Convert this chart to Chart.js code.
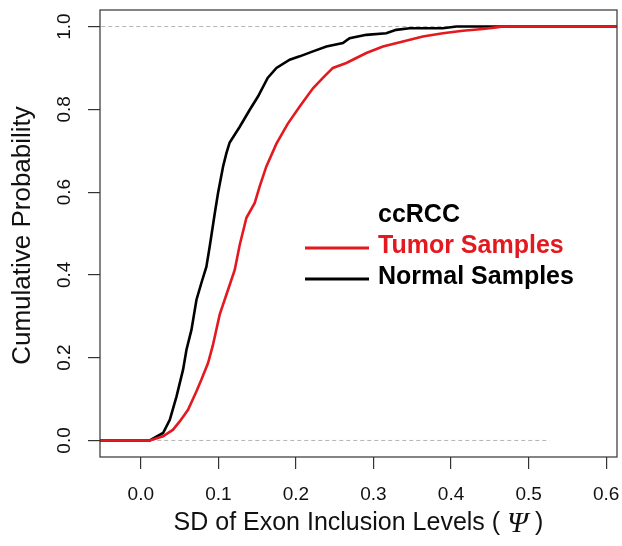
<!DOCTYPE html>
<html>
<head>
<meta charset="utf-8">
<script src="https://cdn.jsdelivr.net/npm/chart.js@4.4.1/dist/chart.umd.min.js"></script>
<style>
  html, body { margin: 0; padding: 0; background: #fff; }
  #wrap { width: 622px; height: 546px; position: relative; }
</style>
</head>
<body>
<div id="wrap"><canvas id="ecdf"></canvas></div>
<script>
'use strict'

// axis ticks
var xTicks = [0, 0.1, 0.2, 0.3, 0.4, 0.5, 0.6];
var yTicks = [0, 0.2, 0.4, 0.6, 0.8, 1.0];
var xTickLabels = ['0.0', '0.1', '0.2', '0.3', '0.4', '0.5', '0.6'];
var yTickLabels = ['0.0', '0.2', '0.4', '0.6', '0.8', '1.0'];

// normal samples (black)
var normalX = [-0.06, 0.0116, 0.0287, 0.0374, 0.046, 0.0545, 0.0589, 0.0653, 0.0718, 0.0782, 0.0846, 0.0889, 0.0954, 0.0996, 0.1061, 0.1104, 0.1146, 0.1276, 0.1405, 0.1511, 0.1636, 0.1749, 0.192, 0.2049, 0.222, 0.2393, 0.2606, 0.2692, 0.2908, 0.3165, 0.3293, 0.3466, 0.3893, 0.407, 0.62];
var normalY = [0, 0, 0.018, 0.05, 0.106, 0.171, 0.219, 0.267, 0.340, 0.381, 0.420, 0.469, 0.549, 0.598, 0.662, 0.694, 0.720, 0.758, 0.799, 0.831, 0.876, 0.900, 0.920, 0.928, 0.940, 0.952, 0.960, 0.972, 0.980, 0.984, 0.992, 0.996, 0.996, 1.0, 1.0];

// tumor samples (red)
var tumorX = [-0.06, 0.0116, 0.0287, 0.0416, 0.0502, 0.0609, 0.0718, 0.0782, 0.0867, 0.0928, 0.1017, 0.1125, 0.1211, 0.1276, 0.1362, 0.1469, 0.1533, 0.1619, 0.1749, 0.1894, 0.2049, 0.222, 0.2348, 0.2477, 0.265, 0.2779, 0.2908, 0.3122, 0.338, 0.3637, 0.3895, 0.4152, 0.441, 0.4583, 0.4668, 0.62];
var tumorY = [0, 0, 0.010, 0.026, 0.046, 0.074, 0.119, 0.147, 0.187, 0.229, 0.304, 0.364, 0.412, 0.473, 0.538, 0.574, 0.614, 0.662, 0.717, 0.765, 0.807, 0.851, 0.876, 0.900, 0.912, 0.924, 0.936, 0.952, 0.964, 0.976, 0.984, 0.990, 0.994, 0.998, 1.0, 1.0];

// dashed reference lines at 0 and 1
var zeroLineX = [-0.06, 0.527];
var oneLineX = [-0.06, 0.62];

var X_MIN = -0.0526, X_MAX = 0.614;
var RED = '#e3191f';

function pts(xs, ys) {
	return xs.map(function (v, i) { return { x: v, y: ys[i] }; });
}

var decor = {
	id: 'decor',
	afterDraw: function (chart) {
		var ctx = chart.ctx, a = chart.chartArea, y = chart.scales.y;
		ctx.save();
		// box
		ctx.strokeStyle = '#333';
		ctx.lineWidth = 1.2;
		ctx.strokeRect(a.left, a.top, a.right - a.left, a.bottom - a.top);

		// y tick labels, rotated like R
		ctx.fillStyle = '#111';
		ctx.font = '19px "Liberation Sans", Arial, sans-serif';
		ctx.textAlign = 'center';
		ctx.textBaseline = 'middle';
		yTicks.forEach(function (v, i) {
			ctx.save();
			ctx.translate(65, y.getPixelForValue(v));
			ctx.rotate(-Math.PI / 2);
			ctx.fillText(yTickLabels[i], 0, 0);
			ctx.restore();
		});

		// y title
		ctx.font = '26px "Liberation Sans", Arial, sans-serif';
		ctx.save();
		ctx.translate(23, (a.top + a.bottom) / 2 + 2);
		ctx.rotate(-Math.PI / 2);
		ctx.fillText('Cumulative Probability', 0, 0);
		ctx.restore();

		// x title with italic psi
		var p1 = 'SD of Exon Inclusion Levels ( ', p2 = '\u03A8', p3 = ' )';
		var sans = '25px "Liberation Sans", Arial, sans-serif';
		var serif = 'italic 30px "Liberation Serif", "DejaVu Serif", serif';
		ctx.font = sans;
		var w1 = ctx.measureText(p1).width, w3 = ctx.measureText(p3).width;
		ctx.font = serif;
		var w2 = ctx.measureText(p2).width;
		var sx = (a.left + a.right) / 2 - (w1 + w2 + w3) / 2, ty = 523;
		ctx.textAlign = 'left';
		ctx.font = sans;
		ctx.fillText(p1, sx, ty);
		ctx.font = serif;
		ctx.fillText(p2, sx + w1, ty + 1);
		ctx.font = sans;
		ctx.fillText(p3, sx + w1 + w2, ty);

		// legend
		var ds = chart.data.datasets;
		ctx.font = 'bold 25px "Liberation Sans", Arial, sans-serif';
		ctx.fillStyle = '#000';
		ctx.fillText('ccRCC', 378, 215);
		[[ds[0], 246], [ds[1], 277]].forEach(function (it) {
			ctx.strokeStyle = it[0].borderColor;
			ctx.lineWidth = 3;
			ctx.beginPath();
			ctx.moveTo(305, it[1] + 2);
			ctx.lineTo(369, it[1] + 2);
			ctx.stroke();
			ctx.fillStyle = it[0].borderColor;
			ctx.fillText(it[0].label, 378, it[1]);
		});
		ctx.restore();
	}
};

var ctx = document.getElementById('ecdf');
var myChart = new Chart(ctx, {
	type: 'line',
	data: {
		datasets: [{
			label: 'Tumor Samples',
			data: pts(tumorX, tumorY),
			borderColor: RED,
			borderWidth: 2.6,
			pointRadius: 0,
			tension: 0
		}, {
			label: 'Normal Samples',
			data: pts(normalX, normalY),
			borderColor: '#000',
			borderWidth: 2.6,
			pointRadius: 0,
			tension: 0
		}, {
			label: 'ref0',
			data: pts(zeroLineX, [0, 0]),
			borderColor: '#b3b3b3',
			borderWidth: 1,
			borderDash: [4, 3],
			pointRadius: 0
		}, {
			label: 'ref1',
			data: pts(oneLineX, [1, 1]),
			borderColor: '#b3b3b3',
			borderWidth: 1,
			borderDash: [4, 3],
			pointRadius: 0
		}]
	},
	options: {
		responsive: true,
		maintainAspectRatio: false,
		animation: false,
		devicePixelRatio: 1,
		layout: {
			padding: { top: 10, right: 5, left: 0, bottom: 0 }
		},
		plugins: {
			legend: { display: false },
			tooltip: { enabled: false }
		},
		scales: {
			x: {
				type: 'linear',
				min: X_MIN,
				max: X_MAX,
				afterBuildTicks: function (s) {
					s.ticks = xTicks.map(function (v) { return { value: v }; });
				},
				afterFit: function (s) {
					s.height = 89;
					s.paddingLeft = 0;
					s.paddingRight = 0;
				},
				border: { display: false },
				grid: {
					drawOnChartArea: false,
					drawTicks: true,
					tickLength: 12,
					tickColor: '#333',
					lineWidth: 1.2
				},
				ticks: {
					color: '#111',
					padding: 14,
					maxRotation: 0,
					font: { family: '"Liberation Sans", Arial, sans-serif', size: 19 },
					callback: function (v) {
						var i = xTicks.indexOf(v);
						return i >= 0 ? xTickLabels[i] : '';
					}
				}
			},
			y: {
				type: 'linear',
				min: -0.04,
				max: 1.04,
				afterBuildTicks: function (s) {
					s.ticks = yTicks.map(function (v) { return { value: v }; });
				},
				afterFit: function (s) {
					s.width = 100;
					s.paddingTop = 0;
					s.paddingBottom = 0;
				},
				border: { display: false },
				grid: {
					drawOnChartArea: false,
					drawTicks: true,
					tickLength: 12,
					tickColor: '#333',
					lineWidth: 1.2
				},
				ticks: { display: false }
			}
		}
	},
	plugins: [decor]
});
</script>
</body>
</html>
